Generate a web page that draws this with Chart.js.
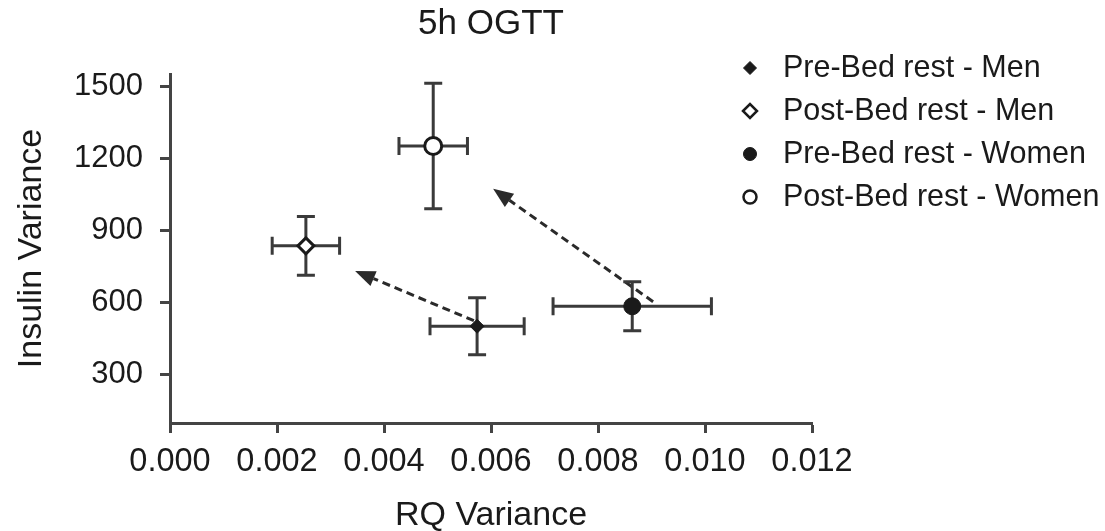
<!DOCTYPE html>
<html>
<head>
<meta charset="utf-8">
<script src="https://cdn.jsdelivr.net/npm/chart.js@4/dist/chart.umd.min.js"></script>
<style>
  html, body { margin: 0; padding: 0; background: #fff; }
  #wrap { width: 1105px; height: 531px; position: relative; }
</style>
</head>
<body>
<div id="wrap"><canvas id="c" width="1105" height="531"></canvas></div>
<script>
// ---- data ----
const seriesLabels = ['Pre-Bed rest - Men', 'Post-Bed rest - Men', 'Pre-Bed rest - Women', 'Post-Bed rest - Women'];
const rqVariance   = [0.00574, 0.00254, 0.00864, 0.00492];
const rqError      = [0.00088, 0.00063, 0.00148, 0.00064];
const insulinVar   = [502, 836, 585, 1251];
const insulinError = [118, 122, 102, 261];
// arrows (from pre to post), in data units
const arrowFromX = [0.00568, 0.00903];
const arrowFromY = [525, 604];
const arrowToX   = [0.00346, 0.00604];
const arrowToY   = [732, 1073];
// tick values
const yTickValues = [300, 600, 900, 1200, 1500];
const xTickStep = 0.002;

// ---- styles ----
const INK = '#1a1a1a';
const BAR = '#3a3a3a';
const FONT = "'Liberation Sans', Arial, Helvetica, sans-serif";
const markerStyles = [
  { pointStyle: 'rectRot', radius: 7,   fill: INK,    border: INK, bw: 1 },
  { pointStyle: 'rectRot', radius: 8,   fill: '#fff', border: INK, bw: 3 },
  { pointStyle: 'circle',  radius: 8.5, fill: INK,    border: INK, bw: 1 },
  { pointStyle: 'circle',  radius: 8.5, fill: '#fff', border: INK, bw: 3 }
];
const legendMarkers = [
  { radius: 6.5, bw: 1 }, { radius: 7, bw: 2.5 }, { radius: 6.5, bw: 1 }, { radius: 6.5, bw: 2.5 }
];

const datasets = seriesLabels.map((lab, i) => ({
  label: lab,
  data: [{ x: rqVariance[i], y: insulinVar[i] }],
  pointStyle: markerStyles[i].pointStyle,
  pointRadius: markerStyles[i].radius,
  pointHoverRadius: markerStyles[i].radius,
  backgroundColor: markerStyles[i].fill,
  borderColor: markerStyles[i].border,
  borderWidth: markerStyles[i].bw,
  showLine: false
}));

const errorBarsPlugin = {
  id: 'errorBars',
  beforeDatasetsDraw(chart) {
    const { ctx, scales: { x, y } } = chart;
    ctx.save();
    // arrows
    ctx.strokeStyle = '#2a2a2a';
    ctx.fillStyle = '#2a2a2a';
    ctx.lineWidth = 3;
    for (let i = 0; i < arrowFromX.length; i++) {
      const x0 = x.getPixelForValue(arrowFromX[i]), y0 = y.getPixelForValue(arrowFromY[i]);
      const x1 = x.getPixelForValue(arrowToX[i]),   y1 = y.getPixelForValue(arrowToY[i]);
      const ang = Math.atan2(y1 - y0, x1 - x0);
      const headLen = 20, headHalf = 8;
      const bx = x1 - Math.cos(ang) * headLen, by = y1 - Math.sin(ang) * headLen;
      ctx.setLineDash([8, 5]);
      ctx.beginPath();
      ctx.moveTo(x0, y0);
      ctx.lineTo(bx, by);
      ctx.stroke();
      ctx.setLineDash([]);
      ctx.beginPath();
      ctx.moveTo(x1, y1);
      ctx.lineTo(bx + Math.sin(ang) * headHalf, by - Math.cos(ang) * headHalf);
      ctx.lineTo(bx - Math.sin(ang) * headHalf, by + Math.cos(ang) * headHalf);
      ctx.closePath();
      ctx.fill();
    }
    // error bars
    ctx.strokeStyle = BAR;
    ctx.lineWidth = 3;
    const cap = 9;
    for (let i = 0; i < rqVariance.length; i++) {
      const cx = x.getPixelForValue(rqVariance[i]);
      const cy = y.getPixelForValue(insulinVar[i]);
      const xl = x.getPixelForValue(rqVariance[i] - rqError[i]);
      const xr = x.getPixelForValue(rqVariance[i] + rqError[i]);
      const yt = y.getPixelForValue(insulinVar[i] + insulinError[i]);
      const yb = y.getPixelForValue(insulinVar[i] - insulinError[i]);
      ctx.beginPath();
      ctx.moveTo(xl, cy); ctx.lineTo(xr, cy);
      ctx.moveTo(xl, cy - cap); ctx.lineTo(xl, cy + cap);
      ctx.moveTo(xr, cy - cap); ctx.lineTo(xr, cy + cap);
      ctx.moveTo(cx, yt); ctx.lineTo(cx, yb);
      ctx.moveTo(cx - cap, yt); ctx.lineTo(cx + cap, yt);
      ctx.moveTo(cx - cap, yb); ctx.lineTo(cx + cap, yb);
      ctx.stroke();
    }
    ctx.restore();
  }
};

const legendPlugin = {
  id: 'customLegend',
  afterDraw(chart) {
    const { ctx } = chart;
    const markerX = 750, textX = 783, rowY0 = 68, rowGap = 43;
    ctx.save();
    ctx.font = '30.5px ' + FONT;
    ctx.textBaseline = 'middle';
    ctx.textAlign = 'left';
    chart.data.datasets.forEach((ds, i) => {
      const yy = rowY0 + i * rowGap;
      ctx.fillStyle = ds.backgroundColor;
      ctx.strokeStyle = ds.borderColor;
      ctx.lineWidth = legendMarkers[i].bw;
      Chart.helpers.drawPoint(ctx, { pointStyle: ds.pointStyle, radius: legendMarkers[i].radius, borderWidth: legendMarkers[i].bw, rotation: 0 }, markerX, yy);
      ctx.fillStyle = INK;
      ctx.fillText(ds.label, textX, yy + 1);
    });
    ctx.restore();
  }
};

new Chart(document.getElementById('c'), {
  type: 'scatter',
  data: { datasets },
  options: {
    responsive: false,
    animation: false,
    events: [],
    layout: { padding: { top: 0, right: 293, bottom: 0, left: 0 } },
    plugins: {
      legend: { display: false },
      tooltip: { enabled: false },
      title: {
        display: true,
        text: '5h OGTT',
        fullSize: false,
        color: INK,
        font: { family: FONT, size: 35, weight: 'normal', lineHeight: 1.2 },
        padding: { top: 3, bottom: 29 }
      }
    },
    scales: {
      x: {
        type: 'linear',
        min: 0,
        max: 0.012,
        afterFit(scale) { scale.height = 108; },
        ticks: {
          stepSize: xTickStep,
          color: INK,
          padding: 10,
          font: { family: FONT, size: 32.5 },
          callback: v => Number(v).toFixed(3)
        },
        grid: { drawOnChartArea: false, drawTicks: true, tickLength: 10, tickWidth: 3, tickColor: '#444' },
        border: { display: true, color: '#444', width: 3 },
        title: {
          display: true,
          text: 'RQ Variance',
          color: INK,
          font: { family: FONT, size: 34, lineHeight: 0.92 },
          padding: { top: 0, bottom: 0 }
        }
      },
      y: {
        type: 'linear',
        min: 100,
        max: 1550,
        afterFit(scale) { scale.width = 170; },
        afterBuildTicks(scale) {
          scale.ticks = yTickValues.map(v => ({ value: v }));
        },
        ticks: {
          color: INK,
          padding: 17,
          font: { family: FONT, size: 31 },
          callback: v => String(v)
        },
        grid: { drawOnChartArea: false, drawTicks: true, tickLength: 10, tickWidth: 3, tickColor: '#444' },
        border: { display: true, color: '#444', width: 3 },
        title: {
          display: true,
          text: 'Insulin Variance',
          color: INK,
          font: { family: FONT, size: 34, lineHeight: 1.2 },
          padding: { top: 11, bottom: 0 }
        }
      }
    }
  },
  plugins: [errorBarsPlugin, legendPlugin]
});
</script>
</body>
</html>
